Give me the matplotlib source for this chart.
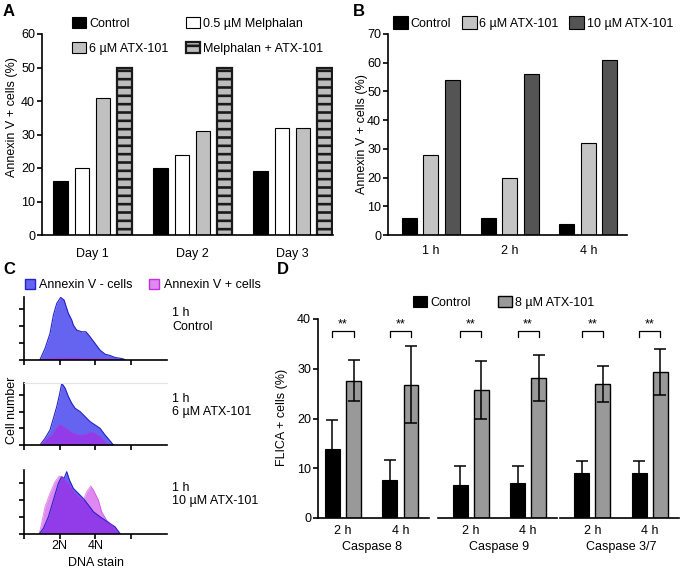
import numpy as np
import matplotlib
matplotlib.use('Agg')
import matplotlib.pyplot as plt
from matplotlib.patches import Patch

plt.rcParams['font.family'] = ['Liberation Sans', 'DejaVu Sans']
plt.rcParams['font.size'] = 9
plt.rcParams['hatch.linewidth'] = 1.9

# ---- panel A data
days = ['Day 1', 'Day 2', 'Day 3']
a_control = [16, 20, 19]
a_melphalan = [20, 24, 32]
a_atx = [41, 31, 32]
a_combo = [50, 50, 50]

# ---- panel B data
hours_b = ['1 h', '2 h', '4 h']
b_control = [6, 6, 4]
b_atx6 = [28, 20, 32]
b_atx10 = [54, 56, 61]

# ---- panel C data (DNA stain histograms)
c1_neg_x = [0.90, 1.18, 1.46, 1.65, 1.84, 2.06, 2.25, 2.49, 2.68, 2.77, 2.96, 3.24, 3.48, 3.71, 3.99, 4.27, 4.55, 4.83, 5.11, 5.49, 5.67]
c1_neg_y = [0, 0.66, 1.56, 2.66, 3.36, 3.72, 3.56, 2.76, 2.36, 2.06, 1.76, 1.66, 1.66, 1.36, 0.96, 0.56, 0.32, 0.24, 0.12, 0.06, 0]
c1_pos_x = [0.90, 1.20, 2.00, 3.00, 3.50, 4.50, 5.30]
c1_pos_y = [0, 0.05, 0.10, 0.10, 0.08, 0.05, 0]

c2_neg_x = [0.90, 1.18, 1.46, 1.65, 1.84, 1.99, 2.12, 2.31, 2.49, 2.68, 2.87, 3.15, 3.43, 3.71, 3.99, 4.27, 4.55, 4.79, 5.02]
c2_neg_y = [0, 0.4, 0.9, 1.6, 2.3, 3.0, 3.7, 3.4, 2.9, 2.5, 2.2, 2.0, 1.7, 1.4, 1.2, 1.0, 0.6, 0.3, 0]
c2_pos_x = [0.90, 1.18, 1.56, 1.80, 1.99, 2.21, 2.49, 2.77, 3.15, 3.52, 3.71, 3.99, 4.27, 4.55, 4.74]
c2_pos_y = [0, 0.3, 0.6, 1.0, 1.24, 1.1, 0.9, 0.7, 0.6, 0.64, 0.8, 0.7, 0.5, 0.2, 0]

c3_neg_x = [0.86, 1.09, 1.37, 1.65, 1.93, 2.12, 2.25, 2.40, 2.55, 2.77, 3.05, 3.33, 3.62, 3.90, 4.27, 4.55, 4.83, 5.11, 5.39]
c3_neg_y = [0, 0.3, 1.0, 2.0, 3.0, 3.4, 3.3, 3.7, 3.2, 2.7, 2.4, 2.1, 1.7, 1.3, 1.0, 0.8, 0.6, 0.4, 0]
c3_pos_x = [0.86, 0.99, 1.18, 1.46, 1.74, 1.99, 2.21, 2.49, 2.77, 3.05, 3.33, 3.52, 3.75, 3.90, 4.18, 4.36, 4.64, 5.02, 5.30]
c3_pos_y = [0, 0.6, 1.6, 2.4, 3.1, 3.44, 3.3, 3.0, 2.5, 2.2, 2.0, 2.5, 2.84, 2.6, 2.0, 1.3, 0.8, 0.4, 0]

c_labels = ['1 h\nControl', '1 h\n6 \u00b5M ATX-101', '1 h\n10 \u00b5M ATX-101']

# ---- panel D data
caspases = ['Caspase 8', 'Caspase 9', 'Caspase 3/7']
hours_d = ['2 h', '4 h']
d_control = [13.9, 7.6, 6.6, 7.0, 9.0, 9.0]
d_control_err = [5.7, 4.1, 3.8, 3.4, 2.5, 2.5]
d_atx = [27.6, 26.8, 25.7, 28.1, 27.0, 29.3]
d_atx_err = [4.1, 7.7, 5.8, 4.6, 3.6, 4.6]

W, H = 681, 571
fig = plt.figure(figsize=(W / 100, H / 100), dpi=100)


def add_ax(x0, y0, x1, y1):
    # pixel box (from top-left) -> figure axes
    return fig.add_axes([x0 / W, 1 - y1 / H, (x1 - x0) / W, (y1 - y0) / H])


def style(ax, xpad):
    ax.spines['top'].set_visible(False)
    ax.spines['right'].set_visible(False)
    ax.spines['left'].set_linewidth(1.2)
    ax.spines['bottom'].set_linewidth(1.2)
    ax.tick_params(axis='y', length=3.5, width=1.2, pad=1.5)
    ax.tick_params(axis='x', length=0, pad=xpad)


leg_kw = dict(frameon=False, borderpad=0, borderaxespad=0, handlelength=1.1,
              handleheight=1.0, handletextpad=0.25, bbox_transform=fig.transFigure,
              loc='upper left')

# ================= A
axA = add_ax(42, 34, 333, 235)
x = np.arange(len(days))
off, w = 0.214, 0.145
hA1 = axA.bar(x - 1.5 * off, a_control, w, color='black', edgecolor='black', lw=0.8, label='Control')
hA2 = axA.bar(x - 0.5 * off, a_melphalan, w, color='white', edgecolor='black', lw=0.8, label='0.5 \u00b5M Melphalan')
hA3 = axA.bar(x + 0.5 * off, a_atx, w, color='#c0c0c0', edgecolor='black', lw=0.8, label='6 \u00b5M ATX-101')
hA4 = axA.bar(x + 1.5 * off, a_combo, w, color='#bdbdbd', edgecolor='#1a1a1a', lw=1.6, hatch='--',
              label='Melphalan + ATX-101')
axA.set_xlim(-0.505, 2.405)
axA.set_ylim(0, 60)
axA.set_yticks(range(0, 61, 10))
axA.set_xticks(x)
axA.set_xticklabels(days)
style(axA, 9)
axA.legend(handles=[hA1, hA3, hA2, hA4], ncol=2, bbox_to_anchor=(72 / W, 1 - 17 / H),
           columnspacing=1.45, labelspacing=0.95, **leg_kw)
fig.text(12 / W, 1 - 117 / H, 'Annexin V + cells (%)', rotation=90, ha='center', va='center')

# ================= B
axB = add_ax(388, 34, 627, 235)
xb = np.arange(len(hours_b))
offb, wb = 0.273, 0.19
axB.bar(xb - offb, b_control, wb, color='black', edgecolor='black', lw=0.8, label='Control')
axB.bar(xb, b_atx6, wb, color='#c4c4c4', edgecolor='black', lw=0.8, label='6 \u00b5M ATX-101')
axB.bar(xb + offb, b_atx10, wb, color='#545454', edgecolor='black', lw=0.8, label='10 \u00b5M ATX-101')
axB.set_xlim(-0.543, 2.49)
axB.set_ylim(0, 70)
axB.set_yticks(range(0, 71, 10))
axB.set_xticks(xb)
axB.set_xticklabels(hours_b)
style(axB, 7.5)
axB.legend(ncol=3, bbox_to_anchor=(393 / W, 1 - 16 / H), columnspacing=0.85,
           **dict(leg_kw, handlelength=1.2, handleheight=1.2, handletextpad=0.2))
fig.text(362 / W, 1 - 134 / H, 'Annexin V + cells (%)', rotation=90, ha='center', va='center')

# ================= C
blue_face, blue_edge = '#6464f0', '#2323c8'
mag_face, mag_edge = '#c113e1', '#c030e0'
c_boxes = [(297, 359.5), (382.5, 445), (470, 533.5)]
c_data = [(c1_neg_x, c1_neg_y, c1_pos_x, c1_pos_y),
          (c2_neg_x, c2_neg_y, c2_pos_x, c2_pos_y),
          (c3_neg_x, c3_neg_y, c3_pos_x, c3_pos_y)]
c_text_y = [320, 405.5, 494.5]
for i, ((y0, y1), (nx, ny, px, py)) in enumerate(zip(c_boxes, c_data)):
    ax = add_ax(24, y0, 167, y1)
    ax.fill_between(nx, ny, color=blue_face, lw=0)
    ax.plot(nx, ny, color=blue_edge, lw=0.8)
    ax.fill_between(px, py, color=mag_face, alpha=0.5, lw=0)
    ax.plot(px, py, color=mag_edge, lw=0.6, alpha=0.6)
    ax.set_xlim(0, 8.03)
    ax.set_ylim(0, (y1 - y0) / 16.7)
    ax.set_yticks([0, 1, 2, 3])
    ax.set_yticklabels([])
    ax.set_xticks([0, 2, 4, 6])
    if i == 2:
        ax.set_xticklabels(['', '2N', '4N', ''])
    else:
        ax.set_xticklabels([])
    ax.spines['right'].set_visible(False)
    if i == 1:
        ax.spines['top'].set_color('#e4e4e4')
        ax.spines['top'].set_linewidth(0.8)
    else:
        ax.spines['top'].set_visible(False)
    ax.spines['left'].set_linewidth(1.2)
    ax.spines['bottom'].set_linewidth(1.2)
    ax.tick_params(length=3.5, width=1.2, pad=1.5)
    fig.text(172 / W, 1 - c_text_y[i] / H, c_labels[i], ha='left', va='center')
    if i == 0:
        handles = [Patch(facecolor=blue_face, edgecolor=blue_edge, label='Annexin V - cells'),
                   Patch(facecolor='#e089f0', edgecolor=mag_edge, label='Annexin V + cells')]
        ax.legend(handles=handles, ncol=2, bbox_to_anchor=(25 / W, 1 - 279 / H),
                  columnspacing=1.3, **dict(leg_kw, handlelength=0.8, handleheight=0.8, handletextpad=0.35))
fig.text(12 / W, 1 - 410 / H, 'Cell number', rotation=90, ha='center', va='center')
fig.text(96 / W, 1 - 563 / H, 'DNA stain', ha='center', va='center')

# ================= D
axD = add_ax(318, 319, 678, 518)
grp_x = [0, 2.22, 4.34]
xd = np.array([g + h for g in grp_x for h in range(len(hours_d))])
offd, wd = 0.183, 0.26
axD.bar(xd - offd, d_control, wd, color='black', edgecolor='black', lw=0.8, label='Control', zorder=2)
axD.bar(xd + offd, d_atx, wd, color='#999999', edgecolor='black', lw=1.0, label='8 \u00b5M ATX-101', zorder=2)
axD.errorbar(xd - offd, d_control, yerr=d_control_err, fmt='none', ecolor='black',
             elinewidth=1.1, capsize=4, capthick=1.1, zorder=3)
axD.errorbar(xd + offd, d_atx, yerr=d_atx_err, fmt='none', ecolor='black',
             elinewidth=1.1, capsize=4, capthick=1.1, zorder=3)
for xc in xd:
    axD.plot([xc - offd, xc - offd, xc + offd, xc + offd], [36.4, 37.6, 37.6, 36.4],
             color='black', lw=0.9)
    axD.text(xc, 37.7, '**', ha='center', va='bottom')
axD.set_xlim(-0.435, 5.83)
axD.set_ylim(0, 40)
axD.set_yticks(range(0, 41, 10))
axD.set_xticks(xd)
axD.set_xticklabels(hours_d * len(caspases))
style(axD, 5)
axD.spines['bottom'].set_visible(False)
for k, g in enumerate(grp_x):
    left = -0.435 if k == 0 else g + 0.5 - 1.06
    axD.plot([left, g + 0.5 + 1.0], [0, 0], color='black', lw=1.2, clip_on=False, zorder=4)
    axD.text(g + 0.5, -5.8, caspases[k], ha='center', va='center')
axD.legend(ncol=2, bbox_to_anchor=(413 / W, 1 - 296 / H), columnspacing=2.2, **leg_kw)
fig.text(282 / W, 1 - 417 / H, 'FLICA + cells (%)', rotation=90, ha='center', va='center')

# panel letters
for lab, px, py in [('A', 3, 11), ('B', 353, 11), ('C', 3, 270), ('D', 277, 270)]:
    fig.text(px / W, 1 - py / H, lab, fontsize=12, fontweight='bold', va='center')

fig.savefig('out.png', dpi=100)
